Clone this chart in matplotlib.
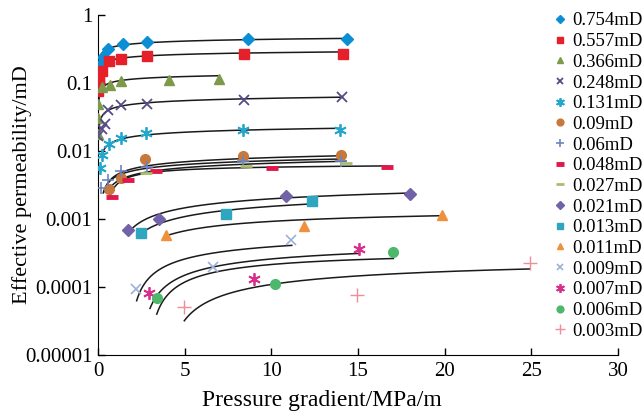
import numpy as np
import matplotlib
matplotlib.use('Agg')
import matplotlib.pyplot as plt
from matplotlib.ticker import FixedLocator, FixedFormatter

plt.rcParams['font.family'] = ['Liberation Serif', 'DejaVu Serif']

# measured points (pressure gradient MPa/m, effective permeability mD)
x_754 = [0.0, 0.05, 0.28, 0.6, 1.42, 2.8, 8.65, 14.35]
k_754 = [0.152, 0.18, 0.245, 0.315, 0.38, 0.406, 0.445, 0.445]
x_557 = [0.0, 0.03, 0.08, 0.23, 0.62, 1.33, 2.83, 8.42, 14.14]
k_557 = [0.0776, 0.1016, 0.1205, 0.1524, 0.212, 0.226, 0.251, 0.265, 0.268]
x_366 = [0.0, 0.0, 0.02, 0.22, 0.69, 1.33, 4.1, 7.0]
k_366 = [0.018, 0.0305, 0.049, 0.0871, 0.0942, 0.1076, 0.1114, 0.1164]
x_248 = [0.02, 0.25, 0.38, 0.6, 1.33, 2.83, 8.42, 14.08]
k_248 = [0.0164, 0.0213, 0.0252, 0.0405, 0.0471, 0.050, 0.0568, 0.0613]
x_131 = [0.12, 0.22, 0.65, 1.33, 2.75, 8.35, 13.96]
k_131 = [0.00565, 0.00885, 0.0126, 0.0158, 0.0184, 0.0201, 0.0206]
x_090 = [0.62, 1.35, 2.73, 8.35, 14.02]
k_090 = [0.00281, 0.00403, 0.00774, 0.00857, 0.00886]
x_060 = [0.2, 0.58, 1.3, 2.8, 8.35, 14.0]
k_060 = [0.0029, 0.0038, 0.0050, 0.0058, 0.0071, 0.0071]
x_048 = [0.81, 1.73, 3.37, 10.02, 16.65]
k_048 = [0.00212, 0.0038, 0.00516, 0.00565, 0.00577]
x_027 = [2.75, 8.55, 14.3]
k_027 = [0.0048, 0.0060, 0.0067]
x_021 = [1.75, 3.52, 10.83, 18.0]
k_021 = [0.00068, 0.00099, 0.00217, 0.0023]
x_013 = [2.46, 7.37, 12.37]
k_013 = [0.000615, 0.0012, 0.00183]
x_011 = [3.92, 11.89, 19.85]
k_011 = [0.000575, 0.000787, 0.00113]
x_009 = [2.19, 6.62, 11.14]
k_009 = [0.000095, 0.000197, 0.00049]
x_007 = [2.94, 9.0, 15.08]
k_007 = [0.000081, 0.00013, 0.000366]
x_006 = [3.39, 10.21, 17.04]
k_006 = [0.0000678, 0.00011, 0.000332]
x_003 = [4.98, 14.93, 24.9]
k_003 = [0.00005, 0.0000758, 0.000229]

# points
cx_754 = [0.03, 1.35, 2.8, 8.56, 14.4]
ck_754 = [0.16, 0.36, 0.388, 0.44, 0.45]
cx_557 = [0.03, 1.35, 2.8, 8.46, 14.2]
ck_557 = [0.11, 0.232, 0.251, 0.275, 0.288]
cx_366 = [0.05, 0.29, 1.35, 4.04, 6.92]
ck_366 = [0.055, 0.088, 0.108, 0.122, 0.129]
cx_248 = [0.03, 0.29, 1.35, 2.8, 8.46, 14.1]
ck_248 = [0.016, 0.031, 0.048, 0.051, 0.059, 0.065]
cx_131 = [0.2, 1.33, 2.75, 8.35, 13.96]
ck_131 = [0.0085, 0.0149, 0.0176, 0.0197, 0.022]
cx_090 = [0.35, 1.35, 2.75, 8.3, 14.05]
ck_090 = [0.0026, 0.0046, 0.0056, 0.0082, 0.0090]
cx_060 = [0.3, 1.35, 2.75, 8.3, 13.9]
ck_060 = [0.0025, 0.0043, 0.0052, 0.0075, 0.0080]
cx_048 = [0.7, 1.35, 3.35, 10.0, 16.65]
ck_048 = [0.0022, 0.0036, 0.0050, 0.0058, 0.0060]
cx_027 = [0.5, 1.35, 2.75, 8.3, 14.3]
ck_027 = [0.0024, 0.0039, 0.0048, 0.0065, 0.0070]
cx_021 = [1.75, 3.52, 7.04, 10.83, 18.0]
ck_021 = [0.000665, 0.001045, 0.00177, 0.00222, 0.00243]
cx_013 = [2.46, 4.15, 7.39, 12.37]
ck_013 = [0.00063, 0.000883, 0.00142, 0.00169]
cx_011 = [3.92, 6.06, 10.9, 19.85]
ck_011 = [0.000561, 0.00076, 0.000931, 0.00113]
cx_009 = [2.23, 2.81, 3.96, 6.62, 11.18]
ck_009 = [0.000062, 0.00013, 0.000204, 0.0003, 0.000425]
cx_007 = [3.0, 5.12, 6.62, 8.96, 15.02]
ck_007 = [0.0000484, 0.000154, 0.000197, 0.000241, 0.000313]
cx_006 = [3.39, 5.12, 8.96, 17.04]
ck_006 = [0.0000399, 0.000123, 0.0002, 0.000264]
cx_003 = [4.98, 7.04, 10.2, 15.0, 24.9]
ck_003 = [0.0000318, 0.0000741, 0.00011, 0.000143, 0.000187]

labels = ['0.754mD', '0.557mD', '0.366mD', '0.248mD', '0.131mD', '0.09mD', '0.06mD',
          '0.048mD', '0.027mD', '0.021mD', '0.013mD', '0.011mD', '0.009mD',
          '0.007mD', '0.006mD', '0.003mD']

series = [
    (x_754, k_754, cx_754, ck_754, 'D', '#0b8ed4', 6.5, 1),
    (x_557, k_557, cx_557, ck_557, 's', '#e5202b', 6.5, 1),
    (x_366, k_366, cx_366, ck_366, '^', '#7c9a4a', 7, 1),
    (x_248, k_248, cx_248, ck_248, 'x', '#574a86', 7, 1.3),
    (x_131, k_131, cx_131, ck_131, (6, 2, 0), '#23a8cc', 9, 1.3),
    (x_090, k_090, cx_090, ck_090, 'o', '#c7793c', 7, 1),
    (x_060, k_060, cx_060, ck_060, '+', '#6d86c2', 9, 1.2),
    (x_048, k_048, cx_048, ck_048, '_', '#e0194a', 8, 3.5),
    (x_027, k_027, cx_027, ck_027, '_', '#a9bd6c', 8, 2),
    (x_021, k_021, cx_021, ck_021, 'D', '#7262a8', 6.5, 1),
    (x_013, k_013, cx_013, ck_013, 's', '#2fa5bf', 6.5, 1),
    (x_011, k_011, cx_011, ck_011, '^', '#f0903c', 7, 1),
    (x_009, k_009, cx_009, ck_009, 'x', '#9cb0d8', 7, 1.2),
    (x_007, k_007, cx_007, ck_007, (6, 2, 0), '#d82f8c', 9, 1.3),
    (x_006, k_006, cx_006, ck_006, 'o', '#4db86c', 7, 1),
    (x_003, k_003, cx_003, ck_003, '+', '#ef8d9b', 10, 1),
]


def fit_curve(cx, ck):
    # smooth trend k = a - b * x^(-c), weighted least squares with a grid over c
    cx = np.asarray(cx, float)
    ck = np.asarray(ck, float)
    best = None
    for c in np.linspace(0.05, 3.0, 400):
        A = np.column_stack([np.ones_like(cx), -cx ** (-c)]) / ck[:, None]
        coef, *_ = np.linalg.lstsq(A, np.ones_like(cx), rcond=None)
        r = np.sum((A @ coef - 1) ** 2)
        if best is None or r < best[0]:
            best = (r, coef[0], coef[1], c)
    _, a, b, c = best
    xs = np.geomspace(cx[0], cx[-1], 300)
    ys = a - b * xs ** (-c)
    ys[ys <= 0] = np.nan
    return xs, ys


fig = plt.figure(figsize=(6.43, 4.12), dpi=100)
ax = fig.add_axes([0.1524, 0.1383, 0.8087, 0.8252])

for (xp, kp, cx, ck, m, col, ms, mew), lab in zip(series, labels):
    xs, ys = fit_curve(cx, ck)
    ax.plot(xs, ys, color='#1a1a1a', lw=1.1, zorder=2)
    if m in ('x', '+', '_') or isinstance(m, tuple):
        ax.plot(xp, kp, ls='none', marker=m, color=col, ms=ms, mew=mew,
                label=lab, zorder=3)
    else:
        ax.plot(xp, kp, ls='none', marker=m, color=col, ms=ms, mec=col,
                label=lab, zorder=3)

ax.set_yscale('log')
ax.set_xlim(0, 30)
ax.set_ylim(1e-5, 1)
ax.set_xticks([0, 5, 10, 15, 20, 25, 30])
ax.yaxis.set_major_locator(FixedLocator([1e-5, 1e-4, 1e-3, 1e-2, 1e-1, 1]))
ax.yaxis.set_major_formatter(FixedFormatter(['0.00001', '0.0001', '0.001', '0.01', '0.1', '1']))
ax.yaxis.set_minor_locator(FixedLocator([]))
ax.tick_params(direction='in', length=5, width=1, labelsize=15)
ax.tick_params(axis='x', pad=5)
ax.tick_params(axis='y', pad=4)
ax.spines['top'].set_visible(False)
ax.spines['right'].set_visible(False)
ax.set_xlabel('Pressure gradient/MPa/m', fontsize=17)
ax.set_ylabel('Effective permeability/mD', fontsize=16)
ax.xaxis.set_label_coords(0.43, -0.104)
ax.yaxis.set_label_coords(-0.127, 0.5)
ax.patch.set_alpha(0)

fig.legend(loc='upper right', bbox_to_anchor=(1.0, 0.97), frameon=False,
           fontsize=13.5, handlelength=0.6, handletextpad=0.35,
           labelspacing=0.19, borderpad=0, borderaxespad=0, markerscale=0.7)

fig.savefig('out.png', dpi=100)
